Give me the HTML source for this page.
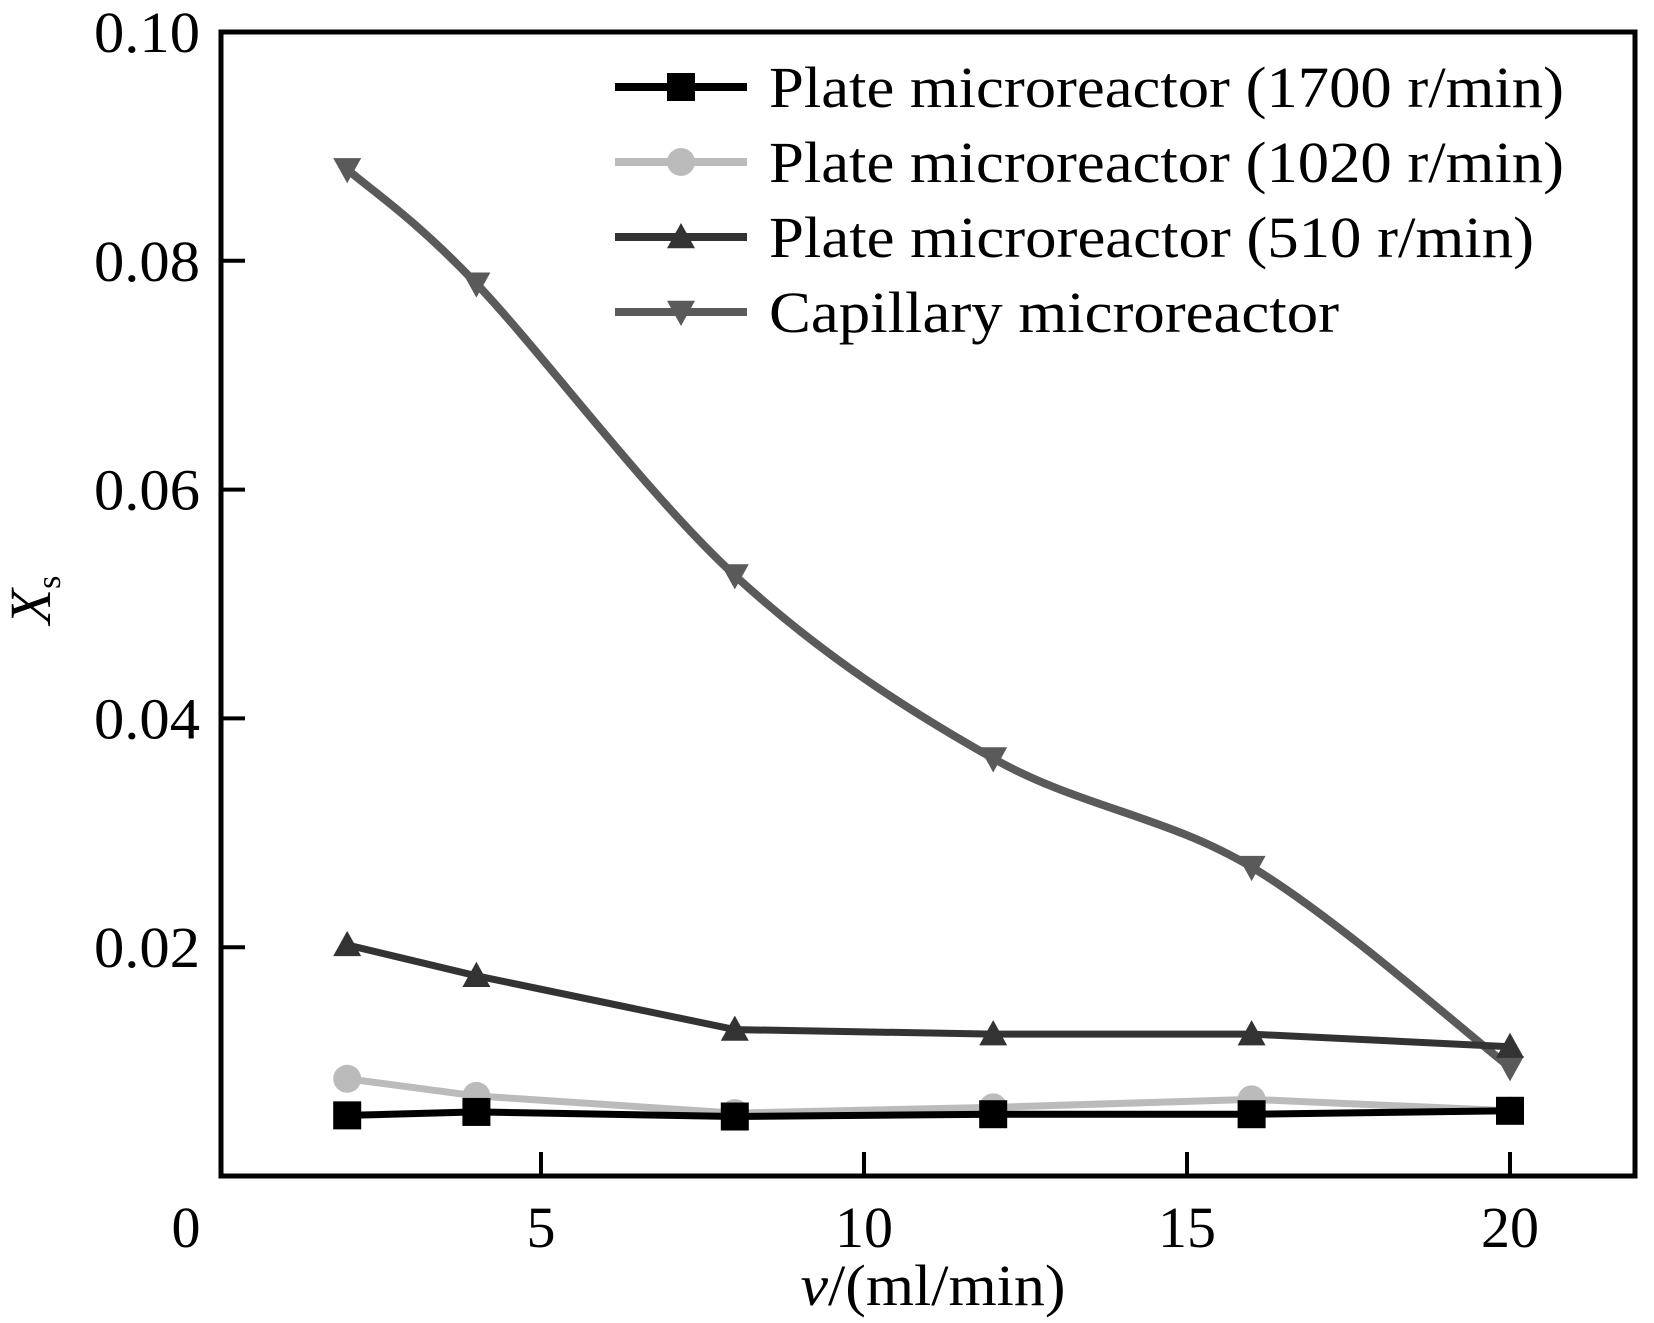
<!DOCTYPE html>
<html><head><meta charset="utf-8"><style>
html,body{margin:0;padding:0;background:#fff}
svg{display:block;font-family:"Liberation Serif",serif}
</style></head><body>
<svg id="chart" width="1654" height="1323" viewBox="0 0 1654 1323">
<g id="marks"></g>
<rect x="221" y="32" width="1414" height="1144" fill="none" stroke="#000" stroke-width="5"/>
<g id="axes"></g>
<g id="legend"></g>
<text x="933" y="1305" font-size="58" text-anchor="middle" textLength="265" lengthAdjust="spacingAndGlyphs"><tspan font-style="italic">v</tspan>/(ml/min)</text>
<text transform="translate(50,600) rotate(-90)" font-size="58" text-anchor="middle"><tspan font-style="italic">X</tspan><tspan font-size="34" dy="10">s</tspan></text>
</svg>
<script>
const xVals = [2, 4, 8, 12, 16, 20];
const s1700 = [0.0053, 0.0056, 0.0052, 0.0054, 0.0054, 0.0057];
const s1020 = [0.0085, 0.0070, 0.0055, 0.0060, 0.0067, 0.0057];
const s510 = [0.0202, 0.0175, 0.0128, 0.0124, 0.0124, 0.0113];
const sCap = [0.088, 0.078, 0.0525, 0.0365, 0.027, 0.0095];
const xTicks = [0, 5, 10, 15, 20];
const yTicks = [0.02, 0.04, 0.06, 0.08, 0.10];
const yTickLabels = ["0.02", "0.04", "0.06", "0.08", "0.10"];
const seriesNames = ["Plate microreactor (1700 r/min)", "Plate microreactor (1020 r/min)", "Plate microreactor (510 r/min)", "Capillary microreactor"];

const NS = "http://www.w3.org/2000/svg";
const X = v => 218 + 64.6 * v;
const Y = v => 1176 - 11440 * v;
function mk(tag, attrs, parent) {
  const e = document.createElementNS(NS, tag);
  for (const k in attrs) e.setAttribute(k, attrs[k]);
  parent.appendChild(e);
  return e;
}
const axes = document.getElementById('axes');
xTicks.forEach(t => {
  if (t > 0) {
    const l = mk('line', {x1: X(t), x2: X(t), y1: 1176, y2: 1152, stroke: '#000', 'stroke-width': 4}, axes);
    
    
  }
  const tx = mk('text', {x: t === 0 ? 186 : X(t), y: 1247, 'font-size': 58, 'text-anchor': 'middle'}, axes);
  tx.textContent = String(t);
  
  
});
yTicks.forEach((t, i) => {
  if (t < 0.1) {
    const l = mk('line', {x1: 221, x2: 245, y1: Y(t), y2: Y(t), stroke: '#000', 'stroke-width': 4}, axes);
    
    
  }
  const tx = mk('text', {x: 200, y: Y(t) + 20, 'font-size': 58, 'text-anchor': 'end', textLength: 106, lengthAdjust: 'spacingAndGlyphs'}, axes);
  tx.textContent = yTickLabels[i];
  
  
});

function smoothPath(pts) {
  let d = `M${pts[0][0]},${pts[0][1]}`;
  for (let i = 0; i < pts.length - 1; i++) {
    const p0 = pts[i - 1] || pts[i], p1 = pts[i], p2 = pts[i + 1], p3 = pts[i + 2] || p2;
    const c1 = [p1[0] + (p2[0] - p0[0]) / 6, p1[1] + (p2[1] - p0[1]) / 6];
    const c2 = [p2[0] - (p3[0] - p1[0]) / 6, p2[1] - (p3[1] - p1[1]) / 6];
    d += ` C${c1[0]},${c1[1]} ${c2[0]},${c2[1]} ${p2[0]},${p2[1]}`;
  }
  return d;
}
function marker(g, type, x, y, color, s) {
  let m;
  if (type === 'square') m = mk('rect', {x: x - s, y: y - s, width: 2 * s, height: 2 * s, fill: color}, g);
  else if (type === 'circle') m = mk('circle', {cx: x, cy: y, r: s, fill: color}, g);
  else if (type === 'up') m = mk('polygon', {points: `${x},${y - s} ${x - s},${y + s * 0.8} ${x + s},${y + s * 0.8}`, fill: color}, g);
  else m = mk('polygon', {points: `${x},${y + s} ${x - s},${y - s * 0.8} ${x + s},${y - s * 0.8}`, fill: color}, g);
  return m;
}
const series = [
  {vals: sCap, color: '#5a5a5a', w: 8, type: 'down', smooth: true, name: 'capillary'},
  {vals: s510, color: '#333', w: 7, type: 'up', smooth: false, name: '510'},
  {vals: s1020, color: '#bbb', w: 7, type: 'circle', smooth: false, name: '1020'},
  {vals: s1700, color: '#000', w: 7, type: 'square', smooth: false, name: '1700'}
];
const marks = document.getElementById('marks');
series.forEach(s => {
  const g = mk('g', {}, marks);
  
  
  const pts = xVals.map((x, i) => [X(x), Y(s.vals[i])]);
  const d = s.smooth ? smoothPath(pts) : 'M' + pts.map(p => p.join(',')).join(' L');
  const p = mk('path', {d: d, fill: 'none', stroke: s.color, 'stroke-width': s.w, 'stroke-linejoin': 'round'}, g);
  
  
  pts.forEach(pt => {
    const m = marker(g, s.type, pt[0], pt[1], s.color, 14);
    
    
  });
});

const legend = document.getElementById('legend');
const legStyle = [
  {color: '#000', type: 'square'}, {color: '#bbb', type: 'circle'},
  {color: '#333', type: 'up'}, {color: '#5a5a5a', type: 'down'}
];
const legY = [87, 162, 237, 312];
const legW = [795, 795, 765, 570];
seriesNames.forEach((n, i) => {
  const g = mk('g', {}, legend);
  
  
  mk('line', {x1: 615, x2: 747, y1: legY[i], y2: legY[i], stroke: legStyle[i].color, 'stroke-width': 8}, g);
  marker(g, legStyle[i].type, 681, legY[i], legStyle[i].color, 14);
  const t = mk('text', {x: 769, y: legY[i] + 20, 'font-size': 58, textLength: legW[i], lengthAdjust: 'spacingAndGlyphs'}, g);
  t.textContent = n;
});
</script>
</body></html>
